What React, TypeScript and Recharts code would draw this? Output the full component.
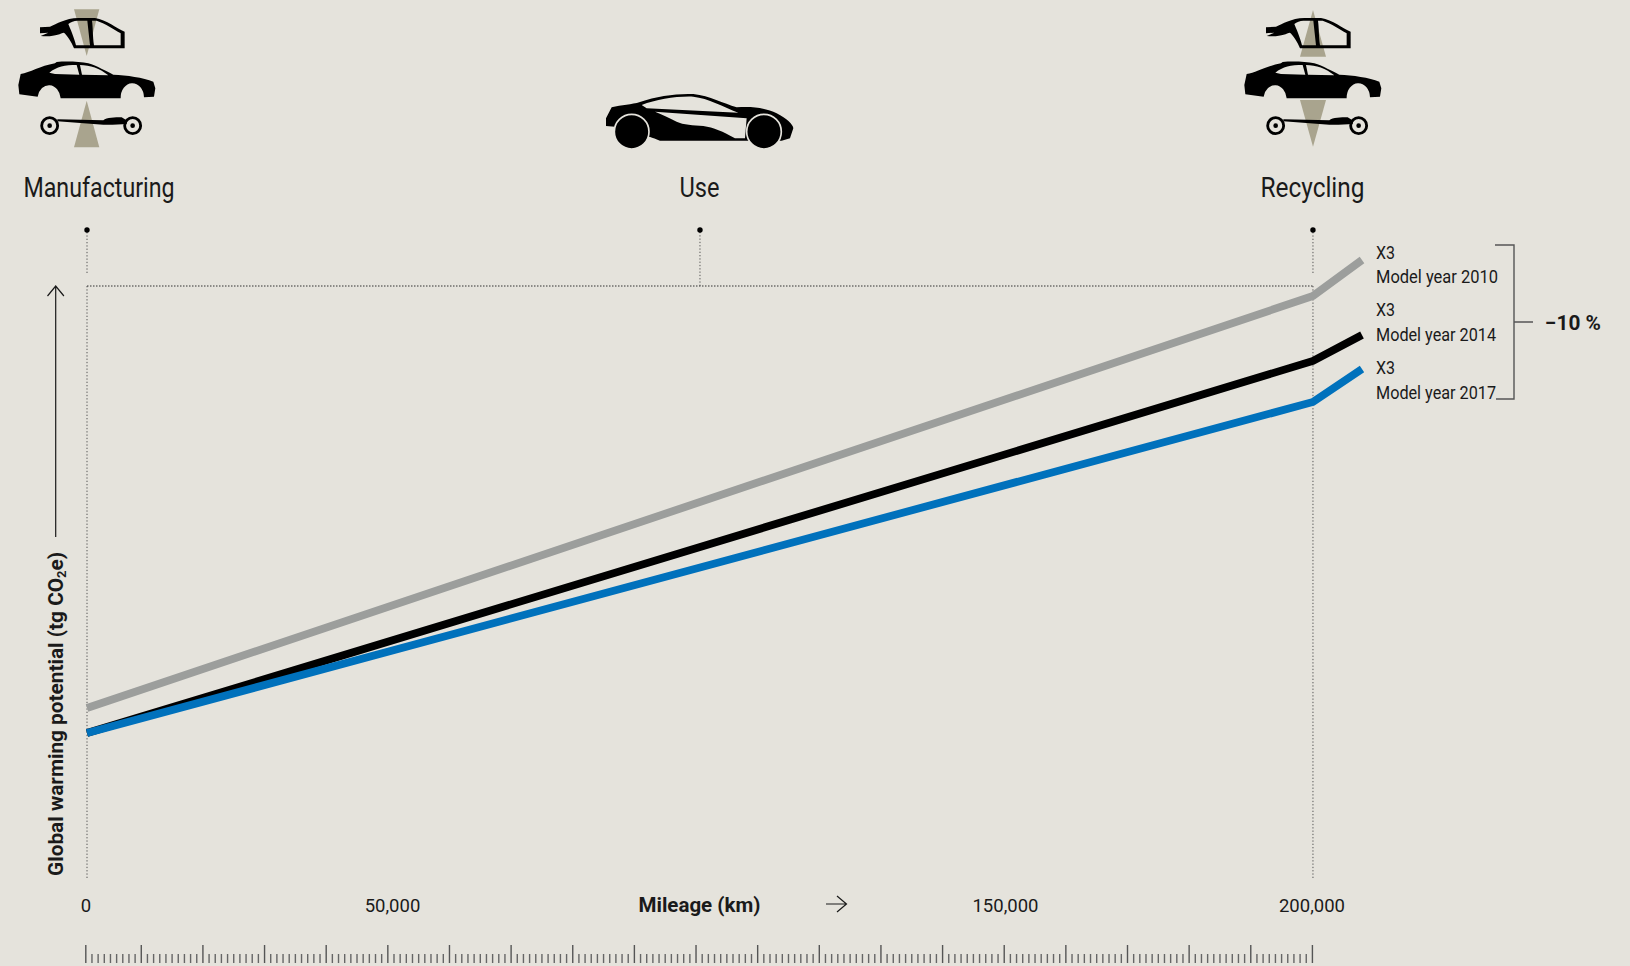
import React from "react";
import { LineChart, Line, XAxis, YAxis, ReferenceLine, ReferenceDot } from "recharts";

const mileage = [0, 200000, 208000];
const x3Model2010 = [17.0, 58.2, 61.8];
const x3Model2014 = [14.5, 51.7, 54.3];
const x3Model2017 = [14.5, 47.6, 50.9];
const rows = mileage.map((km, i) => ({ km, a: x3Model2010[i], b: x3Model2014[i], c: x3Model2017[i] }));

const labelTicks = [0, 50000, 100000, 150000, 200000];
// The printed ruler has 199 divisions; its first section is one division short.
const rulerTicks = Array.from({ length: 200 }, (_, i) => i * 1000);
const rulerDomainMax = 206850;
const stages = [
  { km: 0, name: "Manufacturing", cx: 99, w: 151 },
  { km: 100000, name: "Use", cx: 699.5, w: 40 },
  { km: 200000, name: "Recycling", cx: 1312.5, w: 104 },
];
const modelLabels = [
  { line1: "X3", line2: "Model year 2010", y1: 258.5, y2: 283, w: 122 },
  { line1: "X3", line2: "Model year 2014", y1: 316, y2: 341, w: 120 },
  { line1: "X3", line2: "Model year 2017", y1: 374, y2: 399, w: 120 },
];

const BG = "#E5E3DC";
const TAUPE = "#A9A48E";
const INK = "#1a1a1a";
const DOT = "#555";
const FONT = "Roboto, sans-serif";
const frameY = 59.2;
const stubY = 60.5;
const dotY = 64.8;

function LabelTick(props: any) {
  const { x, payload } = props;
  const v = payload.value;
  if (v === 100000) {
    return (
      <text x={x - 0.5} y={912} textAnchor="middle" fontFamily={FONT} fontWeight={700} fontSize={20} fill={INK} textLength={122} lengthAdjust="spacingAndGlyphs">
        Mileage (km)
      </text>
    );
  }
  return (
    <text x={x - 1} y={912} textAnchor="middle" fontFamily={FONT} fontSize={18.5} fill={INK}>
      {v.toLocaleString("en-US")}
    </text>
  );
}

function RulerTick(props: any) {
  const { x, payload } = props;
  const v = payload.value;
  const major = v === 0 || (v + 1000) % 10000 === 0;
  return <line x1={x - 1.2} x2={x - 1.2} y1={major ? 945 : 954} y2={963} stroke={major ? "#555" : "#666"} strokeWidth={major ? 1.4 : 1.4} />;
}

function YTitle() {
  return (
    <text transform="translate(63,876) rotate(-90)" fontFamily={FONT} fontWeight={700} fontSize={21} fill={INK} textLength={324} lengthAdjust="spacingAndGlyphs">
      Global warming potential (tg CO<tspan fontSize={13} dy={3}>2</tspan><tspan dy={-3}>e)</tspan>
    </text>
  );
}

function Shell() {
  return (
    <path
      fillRule="evenodd"
      fill="#000"
      d="M120 82 L150 80 C170 72 195 55 235 54 L285 54 C320 60 350 85 374 95 L374 145 L222 145 C215 125 200 105 192 98 C180 100 165 112 122 108 L145 98 L120 100 Z
         M232 62 L262 62 L270 136 L228 136 C222 110 210 85 205 72 C212 66 222 62 232 62 Z
         M276 62 L290 62 C315 70 340 88 362 100 L362 136 L282 136 C278 110 279 80 276 62 Z"
    />
  );
}

function Sedan() {
  return (
    <path
      fillRule="evenodd"
      fill="#000"
      d="M62 222 C90 218 120 198 165 190 L170 186 C200 183 240 185 265 190 C290 197 320 215 340 224 C380 226 430 232 460 245 L466 265 L462 290 L432 292 A35 44 0 0 0 362 295 L182 295 A35 44 0 0 0 113 290 L58 283 L55 255 Z
         M148 218 C170 200 195 195 230 195 L238 224 L165 222 Z
         M240 195 C270 195 300 205 325 226 L246 224 Z"
    />
  );
}

function Chassis() {
  return (
    <g>
      <circle cx={149} cy={377} r={24} fill="none" stroke="#000" strokeWidth={8.5} />
      <circle cx={149} cy={377} r={7} fill="#000" />
      <circle cx={398} cy={377} r={24} fill="none" stroke="#000" strokeWidth={8.5} />
      <circle cx={398} cy={377} r={7} fill="#000" />
      <path fill="#000" d="M172 358 L310 361 C320 352 345 352 365 352 L382 362 L380 372 C360 372 330 376 310 374 L172 364 Z" />
    </g>
  );
}

function Overlay() {
  return (
    <svg width={1630} height={966} style={{ position: "absolute", left: 0, top: 0, pointerEvents: "none" }}>
      {/* manufacturing icon */}
      <polygon points="74,9.3 99.3,9.3 86.7,56" fill={TAUPE} />
      <polygon points="86.7,100.7 74,147.3 99.3,147.3" fill={TAUPE} />
      <g transform="scale(0.3333)">
        <Shell />
        <Sedan />
        <Chassis />
      </g>
      {/* recycling icon */}
      <polygon points="1313,10 1300,56.7 1326,56.7" fill={TAUPE} />
      <polygon points="1300,100 1326,100 1313,146.7" fill={TAUPE} />
      <g transform="translate(1226,0) scale(0.3333)">
        <Shell />
        <Sedan />
        <Chassis />
      </g>
      {/* use icon */}
      <g transform="translate(580,70) scale(0.3333)">
        <path
          fillRule="evenodd"
          fill="#000"
          d="M78 168 L78 145 L95 112 C125 104 155 104 180 96 C230 78 290 70 340 72 C390 78 430 100 470 112 C520 108 560 115 590 130 C620 145 640 165 640 175 L630 205 L605 212 L240 212 C225 205 210 200 205 200 L105 170 Z
             M185 105 C230 88 290 78 340 80 C385 85 430 110 475 128 L200 115 Z
             M225 125 L500 145 L495 205 L465 205 C430 185 400 172 370 168 C340 165 310 165 290 155 C270 145 250 135 225 125 Z"
        />
        <circle cx={155} cy={185} r={52} fill="#000" stroke={BG} strokeWidth={5} />
        <circle cx={552} cy={185} r={52} fill="#000" stroke={BG} strokeWidth={5} />
      </g>
      {stages.map((s) => (
        <text key={s.name} x={s.cx} y={197} textAnchor="middle" fontFamily={FONT} fontSize={27} fill={INK} textLength={s.w} lengthAdjust="spacingAndGlyphs">
          {s.name}
        </text>
      ))}
      {modelLabels.map((m) => (
        <g key={m.line2} fontFamily={FONT} fontSize={18} fill={INK}>
          <text x={1376} y={m.y1} textLength={19} lengthAdjust="spacingAndGlyphs">{m.line1}</text>
          <text x={1376} y={m.y2} textLength={m.w} lengthAdjust="spacingAndGlyphs">{m.line2}</text>
        </g>
      ))}
      <path d="M1495 245 L1514 245 L1514 399 L1496 399 M1514 322 L1533 322" fill="none" stroke="#555" strokeWidth={1.4} />
      <text x={1545} y={330} fontFamily={FONT} fontWeight={700} fontSize={21} fill={INK} textLength={56} lengthAdjust="spacingAndGlyphs">−10 %</text>
      {/* axis arrows */}
      <path d="M55.7 537 L55.7 286 M47.5 296 L55.7 286 L63.9 296" fill="none" stroke={INK} strokeWidth={1.2} />
      <path d="M826 904 L846.5 904 M837 896 L846.5 904 L837 912" fill="none" stroke={INK} strokeWidth={1.2} />
    </svg>
  );
}

export default function App() {
  return (
    <div style={{ position: "absolute", left: 0, top: 0, width: 1630, height: 966, background: BG, overflow: "hidden" }}>
      <LineChart width={1630} height={966} data={rows} margin={{ top: 218, right: 268, bottom: 0, left: 0 }} style={{ position: "absolute", left: 0, top: 0 }}>
        <XAxis xAxisId="main" dataKey="km" type="number" domain={[0, 208000]} ticks={labelTicks} interval={0} height={50} axisLine={false} tickLine={false} tick={<LabelTick />} />
        <XAxis xAxisId="ruler" dataKey="km" type="number" domain={[0, rulerDomainMax]} allowDataOverflow ticks={rulerTicks} interval={0} height={38} axisLine={false} tickLine={false} tick={<RulerTick />} />
        <YAxis type="number" domain={[0, 66]} width={87} axisLine={false} tickLine={false} tick={false} label={<YTitle />} />

        <ReferenceLine xAxisId="main" segment={[{ x: 0, y: 0 }, { x: 0, y: frameY }]} stroke={DOT} strokeWidth={1} strokeDasharray="1.3 2" />
        <ReferenceLine xAxisId="main" segment={[{ x: 200000, y: 0 }, { x: 200000, y: frameY }]} stroke={DOT} strokeWidth={1} strokeDasharray="1.3 2" />
        <ReferenceLine xAxisId="main" segment={[{ x: 0, y: frameY }, { x: 200000, y: frameY }]} stroke="#333" strokeWidth={1} strokeDasharray="1.5 1.5" />
        {stages.map((s) => (
          <ReferenceLine
            key={s.name}
            xAxisId="main"
            segment={[{ x: s.km, y: s.km === 100000 ? frameY : stubY }, { x: s.km, y: dotY }]}
            stroke={DOT}
            strokeWidth={1}
            strokeDasharray="1.3 2"
          />
        ))}
        {stages.map((s) => (
          <ReferenceDot key={s.name} xAxisId="main" x={s.km} y={dotY} r={2.7} fill="#000" stroke="none" />
        ))}

        <Line xAxisId="main" dataKey="a" stroke="#9C9E9C" strokeWidth={7.8} dot={false} activeDot={false} isAnimationActive={false} strokeLinejoin="miter" />
        <Line xAxisId="main" dataKey="b" stroke="#000000" strokeWidth={7.8} dot={false} activeDot={false} isAnimationActive={false} strokeLinejoin="miter" />
        <Line xAxisId="main" dataKey="c" stroke="#0071BC" strokeWidth={7.8} dot={false} activeDot={false} isAnimationActive={false} strokeLinejoin="miter" />
      </LineChart>
      <Overlay />
    </div>
  );
}
